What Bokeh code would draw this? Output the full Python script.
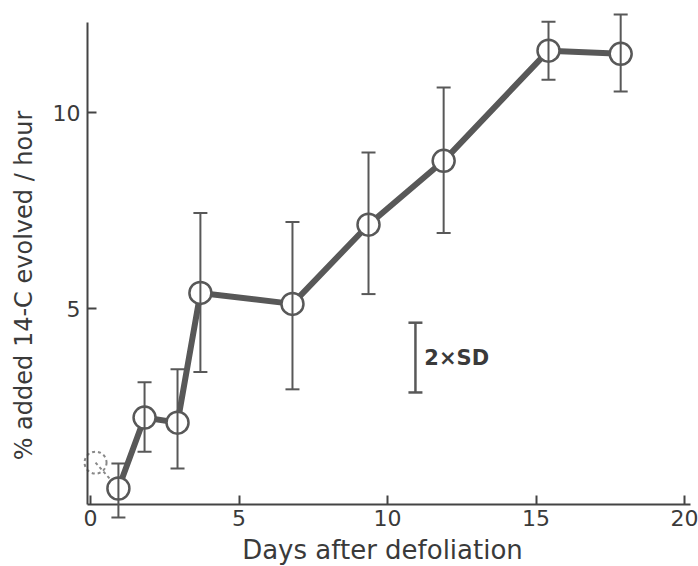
from bokeh.plotting import figure
from bokeh.models import ColumnDataSource, Whisker, TeeHead, FixedTicker, Range1d, LinearAxis
from bokeh.embed import file_html
from bokeh.resources import INLINE
from bokeh.core.properties import value

# Measured release of added 14-C after defoliation (mean and 2xSD range)
days = [0.94, 1.82, 2.93, 3.70, 6.80, 9.36, 11.89, 15.42, 17.85]
evolved = [0.41, 2.22, 2.09, 5.40, 5.12, 7.14, 8.77, 11.58, 11.50]
err_low = [-0.33, 1.35, 0.92, 3.38, 2.94, 5.37, 6.93, 10.84, 10.54]
err_high = [1.05, 3.12, 3.45, 7.44, 7.21, 8.98, 10.64, 12.32, 12.50]

# Early reading, shown dashed
first_day = [0.17]
first_value = [1.07]

# Scale bar for 2 x SD
sd_day = [10.94]
sd_low = [2.86]
sd_high = [4.64]

x_ticks = [0, 5, 10, 15, 20]
y_ticks = [5, 10]

INK = "#585858"
TEXT = "#3a3a3a"
FONT = "DejaVu Sans"

# The frame covers the whole canvas; the axes sit at fixed data positions
p = figure(width=698, height=566,
           x_range=Range1d(-3.03, 20.47), y_range=Range1d(-1.58, 12.86),
           output_backend="svg", toolbar_location=None,
           min_border=0, min_border_left=0, min_border_right=0,
           min_border_top=0, min_border_bottom=0)
p.outline_line_color = None
p.grid.visible = False
p.background_fill_color = "white"

xa = p.xaxis[0]
xa.fixed_location = 0
xa.ticker = FixedTicker(ticks=x_ticks)
xa.bounds = (-0.1, 20.2)
ya = p.yaxis[0]
ya.fixed_location = -0.1
ya.ticker = FixedTicker(ticks=y_ticks)
ya.bounds = (0, 12.3)

for ax in (xa, ya):
    ax.axis_line_color = "#444444"
    ax.axis_line_width = 2
    ax.major_tick_line_color = "#444444"
    ax.major_tick_line_width = 2
    ax.major_tick_in = 9
    ax.major_tick_out = 0
    ax.minor_tick_line_color = None
    ax.major_label_text_font = FONT
    ax.major_label_text_font_size = "22px"
    ax.major_label_text_color = TEXT

xa.major_label_standoff = 5
ya.major_label_standoff = 7

# Axis titles, carried by tick-less axes so they can be centred freely
def title_axis(label, loc, bounds, standoff, size):
    return LinearAxis(axis_label=label, fixed_location=loc, bounds=bounds,
                      ticker=FixedTicker(ticks=[]), axis_line_color=None,
                      major_tick_in=0, major_tick_out=0, minor_tick_line_color=None,
                      axis_label_standoff=standoff, axis_label_text_font=FONT,
                      axis_label_text_font_style="normal",
                      axis_label_text_font_size=size, axis_label_text_color=TEXT)

p.add_layout(title_axis("Days after defoliation", 0, (-0.1, 19.76), 30, "26px"), "below")
p.add_layout(title_axis("% added 14-C evolved / hour", -0.1, (-1.12, 12.3), 50, "24px"), "left")

# Connecting line
p.line(days, evolved, line_width=6, line_color=INK)
p.line([first_day[0], days[0]], [first_value[0], evolved[0]],
       line_width=2, line_color="#888888", line_dash="3 3")

# Open circles
p.scatter(days, evolved, marker="circle", size=22,
          fill_color="white", line_color=INK, line_width=2.5)
p.scatter(first_day, first_value, marker="circle", size=22,
          fill_color=None, line_color="#888888", line_width=2, line_dash="3 3")

# Error bars
err_src = ColumnDataSource(dict(x=days, lo=err_low, hi=err_high))
err = Whisker(base="x", lower="lo", upper="hi", source=err_src, dimension="height",
              line_color=INK, line_width=2, level="overlay",
              upper_head=TeeHead(size=14, line_color=INK, line_width=2),
              lower_head=TeeHead(size=14, line_color=INK, line_width=2))
p.add_layout(err)

# 2 x SD scale bar
sd_src = ColumnDataSource(dict(x=sd_day, lo=sd_low, hi=sd_high))
sd = Whisker(base="x", lower="lo", upper="hi", source=sd_src, dimension="height",
             line_color=INK, line_width=2.5, level="overlay",
             upper_head=TeeHead(size=14, line_color=INK, line_width=2.5),
             lower_head=TeeHead(size=14, line_color=INK, line_width=2.5))
p.add_layout(sd)
p.text(x=[sd_day[0] + 0.3], y=[(sd_low[0] + sd_high[0]) / 2], text=["2\u00d7SD"],
       text_baseline="middle", text_align="left",
       text_font=value(FONT), text_font_style="bold",
       text_font_size="21px", text_color=TEXT)

open("out.html", "w").write(file_html(p, INLINE))
